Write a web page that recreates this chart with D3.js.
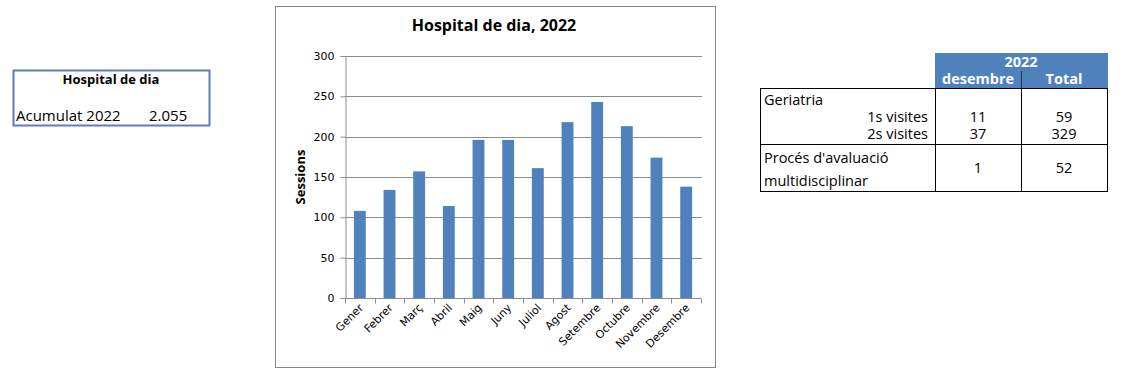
<html>
  <script src="https://d3js.org/d3.v7.min.js"></script>
  <body style="margin:0;background:#fff">
    <script>
      // chart data
      let months = ["Gener", "Febrer", "Març", "Abril", "Maig", "Juny", "Juliol", "Agost", "Setembre", "Octubre", "Novembre", "Desembre"];
      let sessions = [108, 134, 157, 114, 196, 196, 161, 218, 243, 213, 174, 138];
      let yTicks = [0, 50, 100, 150, 200, 250, 300];
      // side tables
      let accumLabel = "Acumulat 2022";
      let accumValue = "2.055";
      let tableRows = ["1s visites", "2s visites", "Procés d'avaluació multidisciplinar"];
      let decValues = [11, 37, 1];
      let totalValues = [59, 329, 52];

      let width = 1129;
      let height = 386;
      let font = "'Open Sans', sans-serif";
      let svg = d3.select("body").append("svg")
                  .attr("width", width)
                  .attr("height", height)
                  .style("font-family", font);

      // left box
      svg.append("rect").attr("x", 13.5).attr("y", 70.5).attr("width", 196).attr("height", 55)
         .attr("fill", "none").attr("stroke", "#5a7fbd").attr("stroke-width", 2);
      svg.append("text").attr("x", 111).attr("y", 84).attr("text-anchor", "middle")
         .attr("font-size", 13).attr("font-weight", "bold").text("Hospital de dia");
      svg.append("text").attr("x", 16).attr("y", 121).attr("font-size", 15).text(accumLabel);
      svg.append("text").attr("x", 149).attr("y", 121).attr("font-size", 15).text(accumValue);

      // chart frame
      svg.append("rect").attr("x", 275.5).attr("y", 6.5).attr("width", 440).attr("height", 361)
         .attr("fill", "white").attr("stroke", "#888").attr("stroke-width", 1);
      svg.append("text").attr("x", 494).attr("y", 31).attr("text-anchor", "middle")
         .attr("font-size", 16).attr("font-weight", "bold").text("Hospital de dia, 2022");

      let x = d3.scaleBand().domain(months).range([345, 701]).paddingInner(0.6).paddingOuter(0.3);
      let y = d3.scaleLinear().domain([0, 300]).range([298, 56]);

      // grid
      svg.append("g").selectAll("line").data(yTicks.slice(1)).join("line")
         .attr("x1", 345).attr("x2", 702)
         .attr("y1", d => Math.round(y(d)) + 0.5).attr("y2", d => Math.round(y(d)) + 0.5)
         .attr("stroke", "#8c8c8c");

      // bars
      svg.append("g").selectAll("rect").data(sessions).join("rect")
         .attr("x", (d, i) => x(months[i]))
         .attr("width", x.bandwidth())
         .attr("y", d => y(d))
         .attr("height", d => y(0) - y(d))
         .attr("fill", "#4f81bd");

      // y axis
      let yAxis = svg.append("g").attr("transform", "translate(345.5,0)")
         .call(d3.axisLeft(y).tickValues(yTicks).tickSize(5).tickPadding(6));
      yAxis.select(".domain").attr("stroke", "#8c8c8c");
      yAxis.selectAll(".tick line").attr("stroke", "#8c8c8c");
      yAxis.selectAll("text").attr("font-family", "'DejaVu Sans', Verdana, sans-serif")
           .attr("font-size", 11).attr("fill", "#000");

      // x axis
      let xAxis = svg.append("g").attr("transform", "translate(0,298.5)");
      xAxis.append("line").attr("x1", 345).attr("x2", 701).attr("stroke", "#8c8c8c");
      xAxis.selectAll(".tk").data(d3.range(months.length + 1)).join("line")
         .attr("x1", i => Math.round(345 + i * 356 / months.length) + 0.5)
         .attr("x2", i => Math.round(345 + i * 356 / months.length) + 0.5)
         .attr("y1", 0).attr("y2", 5).attr("stroke", "#8c8c8c");
      xAxis.selectAll("text").data(months).join("text")
         .attr("transform", d => `translate(${x(d) + x.bandwidth() / 2 + 4},${10}) rotate(-45)`)
         .attr("text-anchor", "end")
         .attr("font-family", "'DejaVu Sans', Verdana, sans-serif")
         .attr("font-size", 11)
         .text(d => d);

      svg.append("text").attr("transform", "translate(305,177) rotate(-90)")
         .attr("text-anchor", "middle").attr("font-size", 13).attr("font-weight", "bold").text("Sessions");

      // right table
      let t = svg.append("g").attr("font-size", 14.5);
      t.append("rect").attr("x", 935).attr("y", 53).attr("width", 173).attr("height", 35).attr("fill", "#4f81bd");
      t.append("line").attr("x1", 1021.5).attr("x2", 1021.5).attr("y1", 71).attr("y2", 88).attr("stroke", "#1f2f4f");
      t.append("text").attr("x", 1021).attr("y", 67).attr("text-anchor", "middle")
       .attr("font-weight", "bold").attr("fill", "white").text("2022");
      t.append("text").attr("x", 978).attr("y", 84).attr("text-anchor", "middle")
       .attr("font-weight", "bold").attr("fill", "white").text("desembre");
      t.append("text").attr("x", 1064).attr("y", 84).attr("text-anchor", "middle")
       .attr("font-weight", "bold").attr("fill", "white").text("Total");

      t.append("rect").attr("x", 760.5).attr("y", 88.5).attr("width", 347).attr("height", 103)
       .attr("fill", "none").attr("stroke", "#000");
      t.append("line").attr("x1", 760.5).attr("x2", 1107.5).attr("y1", 144.5).attr("y2", 144.5).attr("stroke", "#000");
      [935.5, 1021.5].forEach(cx => t.append("line").attr("x1", cx).attr("x2", cx)
        .attr("y1", 88.5).attr("y2", 191.5).attr("stroke", "#000"));

      t.append("text").attr("x", 764).attr("y", 105).text("Geriatria");
      let rowY = [122, 139, 173];
      t.append("text").attr("x", 928).attr("y", rowY[0]).attr("text-anchor", "end").text(tableRows[0]);
      t.append("text").attr("x", 928).attr("y", rowY[1]).attr("text-anchor", "end").text(tableRows[1]);
      t.append("text").attr("x", 764).attr("y", 163).text("Procés d'avaluació");
      t.append("text").attr("x", 764).attr("y", 186).text("multidisciplinar");
      decValues.forEach((v, i) => t.append("text").attr("x", 978).attr("y", rowY[i])
        .attr("text-anchor", "middle").text(v));
      totalValues.forEach((v, i) => t.append("text").attr("x", 1064).attr("y", rowY[i])
        .attr("text-anchor", "middle").text(v));
    </script>
  </body>
</html>
